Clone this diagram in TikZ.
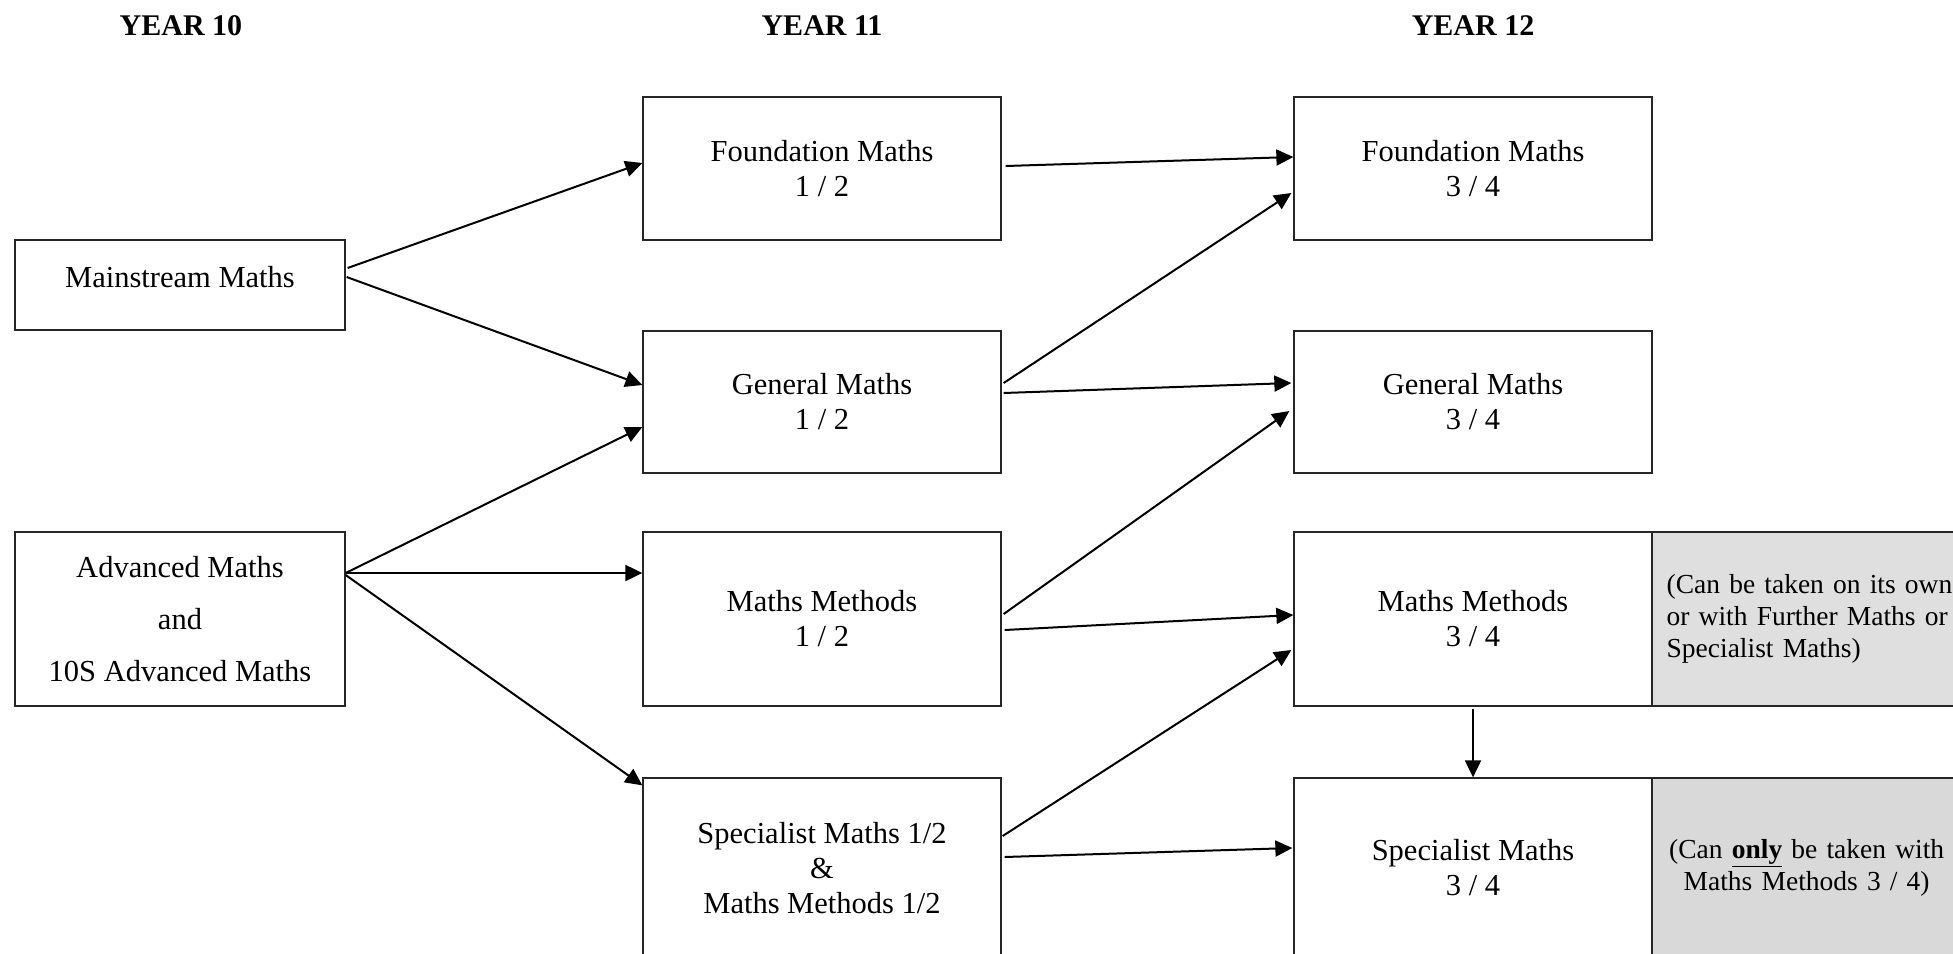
\documentclass[tikz,border=0pt]{standalone}
\usepackage{fontspec}
\setmainfont{Liberation Serif}
\usetikzlibrary{arrows.meta}
\begin{document}
\begin{tikzpicture}[x=1pt,y=-1pt,
  box/.style={draw=black!85, line width=1.3pt, minimum width=358pt, inner sep=0pt,
    align=center, font=\fontsize{30.5}{35}\selectfont},
  leftbox/.style={box, minimum width=330pt},
  notebox/.style={draw=black!85, line width=1.3pt, inner sep=0pt, minimum width=308pt,
    font=\fontsize{27.5}{32}\selectfont},
  head/.style={font=\bfseries\fontsize{30}{36}\selectfont, inner sep=0pt},
  arr/.style={-{Triangle[length=17pt,width=16pt]}, line width=2pt}]
\useasboundingbox (0,0) rectangle (1953,953);
\fill[white] (0,0) rectangle (1953,953);

% headings
\node[head] (h10) at (181,26) {YEAR 10};
\node[head] (h11) at (822,26) {YEAR 11};
\node[head] (h12) at (1473,26) {YEAR 12};

% notes (gray)
\node[notebox, fill=gray!25, anchor=west, minimum height=174pt, align=left,
      text width=310pt, inner xsep=14pt] (n1) at (1652,619)
  {(Can be taken on its own\\or with Further Maths or\\Specialist Maths)};
\node[notebox, fill=gray!30, anchor=west, minimum height=180pt, align=center,
      text width=308pt] (n2) at (1652,868)
  {(Can \textbf{\underline{only}} be taken with\\Maths Methods 3 / 4)};

% year 10
\node[leftbox, minimum height=90pt, text depth=16pt] (ms) at (180,285) {Mainstream Maths};
\node[leftbox, minimum height=174pt] (adv) at (180,619)
  {Advanced Maths\\[17pt]and\\[17pt]10S Advanced Maths};

% year 11
\node[box, minimum height=143pt] (f12) at (822,168.5) {Foundation Maths\\1 / 2};
\node[box, minimum height=142pt] (g12) at (822,402) {General Maths\\1 / 2};
\node[box, minimum height=174pt] (m12) at (822,619) {Maths Methods\\1 / 2};
\node[box, minimum height=180pt] (s12) at (822,868) {Specialist Maths 1/2\\\&\\Maths Methods 1/2};

% year 12
\node[box, minimum height=143pt] (f34) at (1473,168.5) {Foundation Maths\\3 / 4};
\node[box, minimum height=142pt] (g34) at (1473,402) {General Maths\\3 / 4};
\node[box, minimum height=174pt] (m34) at (1473,619) {Maths Methods\\3 / 4};
\node[box, minimum height=180pt] (s34) at (1473,868) {Specialist Maths\\3 / 4};

% arrows year 10 -> year 11
\draw[arr] ([yshift=17pt,xshift=2pt]ms.east) -- ([yshift=5.5pt]f12.west);
\draw[arr] ([yshift=8pt,xshift=1pt]ms.east) -- ([yshift=17pt]g12.west);
\draw[arr] ([yshift=46pt]adv.east) -- ([yshift=-25pt]g12.west);
\draw[arr] ([yshift=46pt]adv.east) -- ([yshift=46pt]m12.west);
\draw[arr] ([yshift=44pt]adv.east) -- ([yshift=-8pt]s12.north west);

% arrows year 11 -> year 12
\draw[arr] ([yshift=2.5pt,xshift=4pt]f12.east) -- ([yshift=11.5pt]f34.west);
\draw[arr] ([yshift=19pt,xshift=2pt]g12.east) -- ([yshift=-24.5pt,xshift=-2pt]f34.west);
\draw[arr] ([yshift=9pt,xshift=2pt]g12.east) -- ([yshift=19pt,xshift=-2pt]g34.west);
\draw[arr] ([yshift=5pt,xshift=2pt]m12.east) -- ([yshift=-9pt,xshift=-4pt]g34.west);
\draw[arr] ([yshift=-11pt,xshift=3pt]m12.east) -- ([yshift=4pt]m34.west);
\draw[arr] ([yshift=32pt,xshift=1pt]s12.east) -- ([yshift=-31pt,xshift=-2pt]m34.west);
\draw[arr] ([yshift=11pt,xshift=3pt]s12.east) -- ([yshift=20pt,xshift=-1pt]s34.west);

% year 12 internal
\draw[arr] ([yshift=-2pt]m34.south) -- (s34.north);
\end{tikzpicture}
\end{document}
